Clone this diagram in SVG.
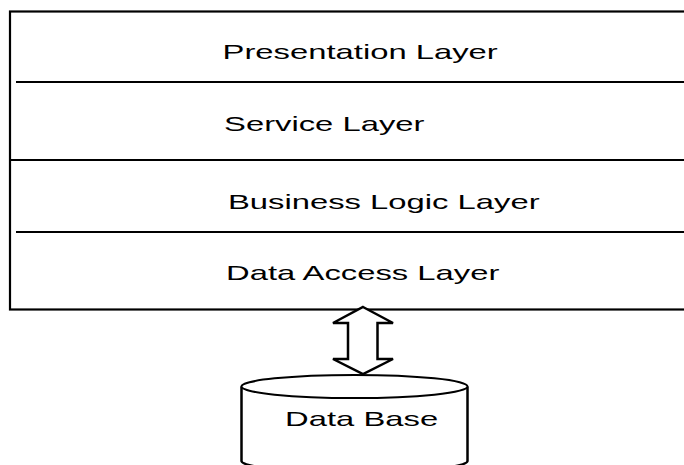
<svg xmlns="http://www.w3.org/2000/svg" width="684" height="465" viewBox="0 0 684 465">
<style>
.ln{stroke:#000;stroke-width:2;fill:none}
.t{font-family:"Liberation Sans",Arial,sans-serif;font-size:20px;fill:#000}
</style>
<rect x="0" y="0" width="684" height="465" fill="#fff"/>
<g id="stack">
<rect x="10" y="11.5" width="690" height="298" fill="#fff" stroke="#000" stroke-width="2.2"/>
</g>
<g id="presentation">
<text class="t" transform="scale(1.64,1)" x="135.7" y="59.5">Presentation Layer</text>
<line class="ln" x1="16" y1="82" x2="700" y2="82"/>
</g>
<g id="service">
<text class="t" transform="scale(1.64,1)" x="136.6" y="131">Service Layer</text>
<line class="ln" x1="10" y1="160" x2="700" y2="160"/>
</g>
<g id="business">
<text class="t" transform="scale(1.64,1)" x="139" y="209">Business Logic Layer</text>
<line class="ln" x1="16" y1="232" x2="700" y2="232"/>
</g>
<g id="dataaccess">
<text class="t" transform="scale(1.64,1)" x="137.8" y="280.5">Data Access Layer</text>
</g>
<g id="connectors">
<polygon points="363,307 393,323 377.5,323 377.5,359 393,359 363,374 333,359 348,359 348,323 333,323" fill="#fff" stroke="#000" stroke-width="2.5" stroke-linejoin="miter"/>
</g>
<g id="database">
<path d="M241.5,386.5 L241.5,461 A113,11.5 0 0 0 467.5,461 L467.5,386.5" fill="#fff" stroke="#000" stroke-width="2.5"/>
<ellipse cx="354.5" cy="386.5" rx="113" ry="11.5" fill="#fff" stroke="#000" stroke-width="2"/>
<text class="t" transform="scale(1.64,1)" x="173.8" y="426">Data Base</text>
</g>
</svg>
